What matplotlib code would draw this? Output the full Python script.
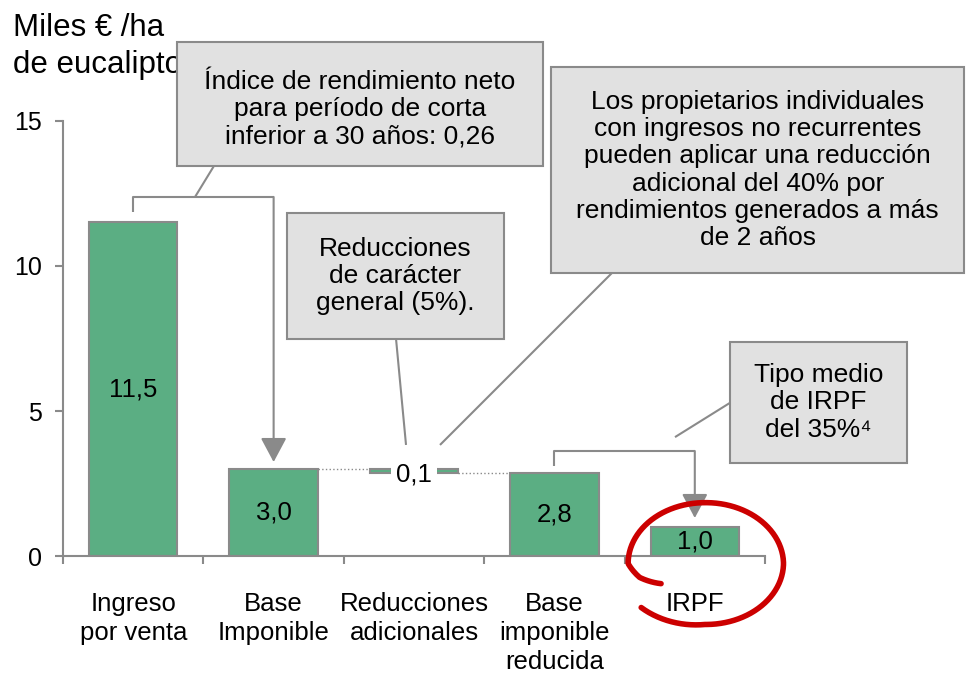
import numpy as np
import matplotlib
matplotlib.use("Agg")
import matplotlib.pyplot as plt
from matplotlib.patches import Rectangle

plt.rcParams['font.family'] = ['Liberation Sans', 'DejaVu Sans']

# data
categories = ["Ingreso\npor venta", "Base\nImponible", "Reducciones\nadicionales",
              "Base\nimponible\nreducida", "IRPF"]
bottoms = [0, 0, 2.85, 0, 0]
heights = [11.5, 3.0, 0.15, 2.85, 1.0]
value_labels = ["11,5", "3,0", "0,1", "2,8", "1,0"]
yticks = [0, 5, 10, 15]

green = "#5bae83"
gray = "#8a8a8a"
boxfill = "#e1e1e1"
red = "#cc0000"

fig = plt.figure(figsize=(9.67, 6.77), dpi=100)
ax = fig.add_axes([0.0652, 0.1787, 0.7259, 0.6426])

x = np.arange(len(categories))
width = 0.63
ax.bar(x, heights, width, bottom=bottoms, color=green, edgecolor=gray, linewidth=1.5, zorder=2)

# value labels
for i in range(len(x)):
    yc = bottoms[i] + heights[i] / 2
    if i == 2:
        ax.text(x[i], yc - 0.1, value_labels[i], ha='center', va='center', fontsize=18.5, zorder=4,
                bbox=dict(boxstyle='square,pad=0.2', fc='white', ec='none'))
    else:
        ax.text(x[i], yc, value_labels[i], ha='center', va='center', fontsize=18.5, zorder=3)

# dotted connectors between bars
tops = [b + h for b, h in zip(bottoms, heights)]
ax.plot([x[1] + width / 2, x[2] - width / 2], [tops[1], tops[1]], ':', color=gray, lw=1, zorder=1)
ax.plot([x[2] + width / 2, x[3] - width / 2], [bottoms[2], bottoms[2]], ':', color=gray, lw=1, zorder=1)

ax.set_xlim(-0.5, 4.5)
ax.set_ylim(0, 15)
ax.set_yticks(yticks)
ax.set_xticks(np.arange(-0.5, 5, 1))
ax.set_xticklabels([])
ax.set_xticks(x, minor=True)
ax.set_xticklabels(categories, minor=True, fontsize=18.5, linespacing=1.25)
ax.tick_params(axis='x', which='major', direction='out', length=6, width=1.5, color=gray)
ax.tick_params(axis='x', which='minor', length=0, pad=26)
ax.tick_params(axis='y', direction='out', length=6, width=1.5, color=gray, pad=9, labelsize=18)
for s in ['top', 'right']:
    ax.spines[s].set_visible(False)
for s in ['left', 'bottom']:
    ax.spines[s].set_color(gray)
    ax.spines[s].set_linewidth(1.5)

# unit label
ax.text(13 / 967, 1 - 13 / 677, "Miles € /ha\nde eucalipto", transform=fig.transFigure,
        ha='left', va='top', fontsize=22.5, linespacing=1.32, zorder=1, clip_on=False)

# annotation boxes
def note(x0, x1, y0, y1, txt, ty=None):
    ax.add_patch(Rectangle((x0, y0), x1 - x0, y1 - y0, fc=boxfill, ec=gray, lw=1.5,
                           zorder=5, clip_on=False))
    ax.text((x0 + x1) / 2, (y0 + y1) / 2 if ty is None else ty, txt, ha='center', va='center',
            fontsize=19, linespacing=1.17, zorder=6, clip_on=False)

note(0.312, 2.919, 13.45, 17.72,
     "Índice de rendimiento neto\npara período de corta\ninferior a 30 años: 0,26", ty=15.4)
note(1.095, 2.641, 7.48, 11.83, "Reducciones\nde carácter\ngeneral (5%).")
note(2.976, 5.92, 9.76, 16.86,
     "Los propietarios individuales\ncon ingresos no recurrentes\npueden aplicar una reducción\n"
     "adicional del 40% por\nrendimientos generados a más\nde 2 años")
note(4.25, 5.51, 3.21, 7.38, "Tipo medio\nde IRPF\ndel 35%⁴")

# leader lines
line_kw = dict(color=gray, lw=1.5, zorder=3, clip_on=False, solid_capstyle='butt')
ax.plot([0.44, 0.575], [12.38, 13.45], **line_kw)
ax.plot([1.872, 1.943], [7.48, 3.83], **line_kw)
ax.plot([2.185, 3.41], [3.83, 9.76], **line_kw)
ax.plot([3.859, 4.25], [4.10, 5.28], **line_kw)

# brackets with arrows
ax.plot([x[0], x[0], x[1]], [tops[0] + 0.36, 12.38, 12.38], **line_kw)
ax.plot([x[3], x[3], x[4]], [tops[3] + 0.25, 3.62, 3.62], **line_kw)
arrow_kw = dict(arrowstyle='-|>,head_length=1.5,head_width=0.8', color=gray, lw=1.5,
                shrinkA=0, shrinkB=0, mutation_scale=10)
ax.annotate('', xy=(x[1], tops[1] + 0.24), xytext=(x[1], 12.38), arrowprops=arrow_kw,
            annotation_clip=False)
ax.annotate('', xy=(x[4], tops[4] + 0.31), xytext=(x[4], 3.62), arrowprops=arrow_kw,
            annotation_clip=False)

# red hand-drawn circle around IRPF
ang = np.radians(np.linspace(210, -139, 300))
r = np.interp(np.degrees(ang)[::-1], [-139, -90, 0, 90, 180, 195, 210],
              [1.1, 1.0, 1.02, 1.0, 1.0, 0.88, 0.66])[::-1]
cx, cy, rx, ry = 4.073, -0.26, 0.548, 2.1
ax.plot(cx + rx * r * np.cos(ang), cy + ry * r * np.sin(ang), color=red, lw=4,
        solid_capstyle='round', zorder=7, clip_on=False)

fig.savefig("out.png", dpi=100)
